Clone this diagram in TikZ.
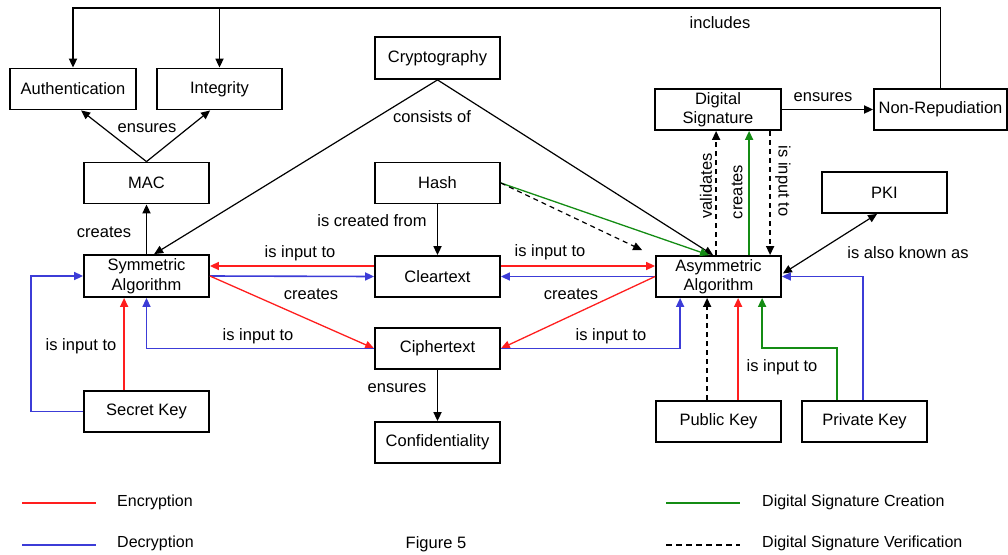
\documentclass[tikz,border=0pt]{standalone}
\usepackage{fontspec}
\setmainfont{Liberation Sans}
\usetikzlibrary{arrows.meta,calc}
\definecolor{myred}{RGB}{255,30,30}
\definecolor{myblue}{RGB}{60,60,215}
\definecolor{mygreen}{RGB}{20,140,20}
\begin{document}
\begin{tikzpicture}[x=1pt,y=-1pt,
  box/.style={draw, line width=1.8pt, minimum width=125pt, minimum height=41pt, inner sep=0pt, align=center, font=\fontsize{16.5}{19.5}\selectfont},
  lbl/.style={font=\fontsize{16.5}{19.5}\selectfont, inner sep=0pt},
  leg/.style={font=\fontsize{16}{19}\selectfont, inner sep=0pt, anchor=west},
  tip/.style={-{Triangle[length=9pt,width=8pt]}},
  arr/.style={tip, line width=1.7pt},
  thin/.style={tip, line width=1.2pt},
  red/.style={tip, line width=1.6pt, draw=myred},
  blue/.style={tip, line width=1.6pt, draw=myblue},
  green/.style={tip, line width=1.6pt, draw=mygreen},
  dsh/.style={tip, line width=1.5pt, dash pattern=on 5pt off 4pt},
]
\useasboundingbox (0,0) rectangle (1008,554);

% nodes
\node[box, minimum width=126pt] (auth) at (73,89) {Authentication};
\node[box] (integ) at (219.5,89) {Integrity};
\node[box] (mac) at (146.5,183) {MAC};
\node[box, minimum height=42pt] (crypto) at (437.5,58) {Cryptography};
\node[box] (hash) at (437.5,183) {Hash};
\node[box] (clear) at (437.5,276.5) {Cleartext};
\node[box] (cipher) at (437.5,348.5) {Ciphertext};
\node[box] (conf) at (437.5,442.5) {Confidentiality};
\node[box, minimum height=42pt] (sym) at (146.5,276) {Symmetric\\Algorithm};
\node[box] (secret) at (146.5,411.5) {Secret Key};
\node[box, minimum width=126pt] (ds) at (718,109.5) {Digital\\Signature};
\node[box, minimum width=133pt] (nonrep) at (940.5,109.5) {Non-Repudiation};
\node[box] (pki) at (884.5,192.5) {PKI};
\node[box] (asym) at (718.5,276.5) {Asymmetric\\Algorithm};
\node[box] (pub) at (718.5,421.5) {Public Key};
\node[box] (priv) at (864.5,421.5) {Private Key};

% top "includes" line
\path (nonrep.north) ++(0,-80) coordinate (topR);
\draw[arr] (nonrep.north) -- (topR) -| (auth.north);
\draw[arr] (topR -| integ.north) -- (integ.north);
\node[lbl] at (720,23) {includes};

% MAC
\draw[thin] (mac.north) -- ($(auth.south west)+(72,0)$);
\draw[thin] (mac.north) -- ($(integ.south west)+(54,0)$);
\node[lbl] at (147,128) {ensures};
\draw[arr] (sym.north) -- (mac.south);
\node[lbl] at (104,232) {creates};

% Cryptography
\draw[thin] (crypto.south) -- ($(sym.north west)+(71,0)$);
\draw[thin] (crypto.south) -- ($(asym.north west)+(58,0)$);
\node[lbl] at (432,117) {consists of};

% Hash
\draw[arr] (hash.south) -- (clear.north);
\node[lbl] at (372,221) {is created from};
\draw[green, line width=1.3pt] (hash.east) -- ($(asym.north west)+(54,0)$);
\coordinate (hashdash) at ($(asym.north west)+(-13,-5)$);
\draw[dsh, line width=1.2pt] (hash.east) -- (hashdash);

% Symmetric side
\draw[red] ($(clear.west)+(0,-10.5)$) -- ($(sym.east)+(0,-10)$);
\node[lbl] at (300,253) {is input to};
\draw[blue] (sym.east) -- (clear.west);
\draw[red, line width=1.3pt] (sym.east) -- (cipher.west);
\node[lbl] at (311,294) {creates};
\draw[blue] (cipher.west) -| (sym.south);
\node[lbl] at (258,336) {is input to};
\draw[red] ($(secret.north west)+(41,0)$) -- ($(sym.south west)+(41,0)$);
\draw[blue] (secret.west) -- ++(-52,0) |- (sym.west);
\node[lbl] at (81,346) {is input to};

% Asymmetric side
\draw[red] ($(clear.east)+(0,-10.5)$) -- ($(asym.west)+(0,-10.5)$);
\node[lbl] at (550,252) {is input to};
\draw[blue] (asym.west) -- (clear.east);
\draw[red, line width=1.3pt] (asym.west) -- (cipher.east);
\node[lbl] at (571,294) {creates};
\draw[blue] (cipher.east) -| ($(asym.south west)+(25,0)$);
\node[lbl] at (611,336) {is input to};

% Digital signature
\draw[dsh] ($(asym.north west)+(61,0)$) -- ($(ds.south west)+(62,0)$);
\node[lbl, rotate=90] at (706,186) {validates};
\draw[green] ($(asym.north west)+(94,0)$) -- ($(ds.south west)+(95,0)$);
\node[lbl, rotate=90] at (737,192) {creates};
\draw[dsh] ($(ds.south west)+(116,0)$) -- ($(asym.north west)+(115,0)$);
\node[lbl, rotate=-90] at (783,181) {is input to};
\draw[arr] (ds.east) -- (nonrep.west);
\node[lbl] at (823,97) {ensures};

% PKI
\draw[{Triangle[length=9pt,width=8pt]}-{Triangle[length=9pt,width=8pt]}, line width=1.2pt] ($(asym.east)+(1,-3)$) -- ($(pki.south west)+(56,0)$);
\node[lbl] at (908,253) {is also known as};

% Keys
\draw[dsh] ($(pub.north west)+(52,0)$) -- ($(asym.south west)+(52,0)$);
\draw[red] ($(pub.north west)+(83,0)$) -- ($(asym.south west)+(83,0)$);
\node[lbl] at (782,367) {is input to};
\draw[green] ($(priv.north west)+(36,0)$) |- ++(-75,-52) -- ($(asym.south west)+(107,0)$);
\draw[blue] ($(priv.north west)+(62,0)$) |- (asym.east);

% Cipher -> Confidentiality
\draw[arr] (cipher.south) -- (conf.north);
\node[lbl] at (397,388) {ensures};

% Legend
\coordinate (l1a) at (22,503); \coordinate (l1b) at (96,503);
\draw[myred, line width=2pt] (l1a) -- (l1b);
\node[leg] (enc) at (117,502) {Encryption};
\coordinate (l2a) at (22,545); \coordinate (l2b) at (96,545);
\draw[myblue, line width=2pt] (l2a) -- (l2b);
\node[leg] (dec) at (117,543) {Decryption};
\coordinate (l3a) at (666,503); \coordinate (l3b) at (740,503);
\draw[mygreen, line width=2pt] (l3a) -- (l3b);
\node[leg] (dsc) at (762,502) {Digital Signature Creation};
\coordinate (l4a) at (666,545); \coordinate (l4b) at (740,545);
\draw[line width=1.5pt, dash pattern=on 6pt off 4pt] (l4a) -- (l4b);
\node[leg] (dsv) at (762,543) {Digital Signature Verification};
\node[lbl, anchor=north] (fig) at (436,536) {Figure 5};
\end{tikzpicture}
\end{document}
